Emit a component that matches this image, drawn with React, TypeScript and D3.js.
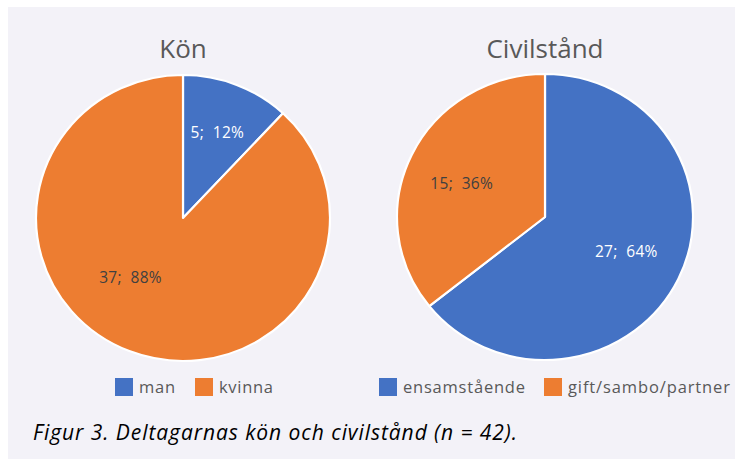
import React from "react";
import * as d3 from "d3";

const konCategories = ["man", "kvinna"];
const konValues = [5, 37];
const civilCategories = ["ensamstående", "gift/sambo/partner"];
const civilValues = [27, 15];
const titles = ["Kön", "Civilstånd"];
const caption = "Figur 3. Deltagarnas kön och civilstånd (n = 42).";

const W = 735;
const H = 459;
const BLUE = "#4472c4";
const ORANGE = "#ed7d31";
const FONT = "'Open Sans', sans-serif";

type PieSpec = {
  title: string;
  cats: string[];
  vals: number[];
  cx: number;
  cy: number;
  rx: number;
  ry: number;
  labelR: number[];
  labelAngleShift: number[];
};

function Pie({ spec }: { spec: PieSpec }) {
  const color = d3.scaleOrdinal<string, string>().domain(spec.cats).range([BLUE, ORANGE]);
  const pie = d3.pie<number>().sort(null).value((d) => d);
  const arcs = pie(spec.vals);
  const total = d3.sum(spec.vals);
  const arc = d3.arc<d3.PieArcDatum<number>>().innerRadius(0).outerRadius(spec.rx);
  const sy = spec.ry / spec.rx;
  return (
    <g>
      <text
        x={spec.cx}
        y={58}
        textAnchor="middle"
        fontFamily={FONT}
        fontSize={26}
        fill="#595959"
      >
        {spec.title}
      </text>
      <g transform={`translate(${spec.cx},${spec.cy}) scale(1,${sy})`}>
        {arcs.map((a, i) => (
          <path
            key={i}
            d={arc(a) || ""}
            fill={color(spec.cats[i])}
            stroke="#ffffff"
            strokeWidth={2.2}
            strokeLinejoin="round"
          />
        ))}
      </g>
      {arcs.map((a, i) => {
        const mid = (a.startAngle + a.endAngle) / 2 + (spec.labelAngleShift[i] * Math.PI) / 180;
        const r = spec.labelR[i] * spec.rx;
        const x = spec.cx + r * Math.sin(mid);
        const y = spec.cy - r * Math.cos(mid) * sy;
        const pct = Math.round((a.data / total) * 100);
        return (
          <text
            key={i}
            x={x}
            y={y}
            dy="0.35em"
            textAnchor="middle"
            fontFamily={FONT}
            fontSize={15.5}
            letterSpacing={0.3}
            fill={i === 0 ? "#ffffff" : "#404040"}
            style={{ whiteSpace: "pre" }}
          >
            {`${a.data};  ${pct}%`}
          </text>
        );
      })}
    </g>
  );
}

function Legend({
  cats,
  boxX,
  textW,
}: {
  cats: string[];
  boxX: number[];
  textW: number[];
}) {
  const color = d3.scaleOrdinal<string, string>().domain(cats).range([BLUE, ORANGE]);
  return (
    <g>
      {cats.map((c, i) => (
        <g key={c} transform={`translate(${boxX[i]},378)`}>
          <rect width={18} height={18} fill={color(c)} />
          <text
            x={24}
            y={15}
            fontFamily={FONT}
            fontSize={16.5}
            textLength={textW[i]}
            lengthAdjust="spacing"
            fill="#595959"
          >
            {c}
          </text>
        </g>
      ))}
    </g>
  );
}

export default function App() {
  const left: PieSpec = {
    title: titles[0],
    cats: konCategories,
    vals: konValues,
    cx: 183,
    cy: 218,
    rx: 147,
    ry: 143,
    labelR: [0.64, 0.55],
    labelAngleShift: [0, 19],
  };
  const right: PieSpec = {
    title: titles[1],
    cats: civilCategories,
    vals: civilValues,
    cx: 545,
    cy: 217,
    rx: 148,
    ry: 143,
    labelR: [0.6, 0.61],
    labelAngleShift: [-2, -3],
  };
  return (
    <svg
      width={W}
      height={H}
      style={{ position: "absolute", left: 0, top: 0, display: "block" }}
    >
      <rect x={0} y={0} width={W} height={H} fill="#ffffff" />
      <rect x={8} y={7} width={W - 8} height={H - 7} fill="#f3f2f8" />
      <Pie spec={left} />
      <Pie spec={right} />
      <Legend cats={konCategories} boxX={[115, 195]} textW={[36, 54]} />
      <Legend cats={civilCategories} boxX={[379, 544]} textW={[122, 162]} />
      <text
        x={33}
        y={440}
        fontFamily={FONT}
        fontStyle="italic"
        fontSize={21}
        textLength={484}
        lengthAdjust="spacing"
        fill="#000000"
      >
        {caption}
      </text>
    </svg>
  );
}
